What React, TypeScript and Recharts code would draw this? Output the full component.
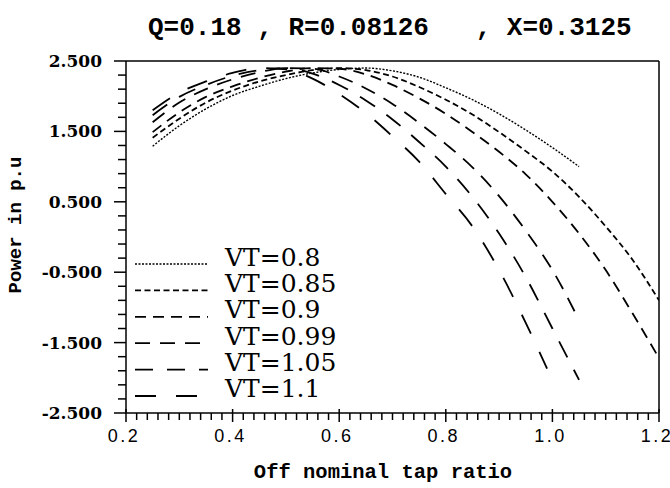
import React from "react";
import { LineChart, Line, XAxis, YAxis, ReferenceLine, Legend } from "recharts";

// tap ratio samples
const tapX = [0.25, 0.3, 0.35, 0.4, 0.45, 0.5, 0.55, 0.6, 0.65, 0.7, 0.75, 0.8, 0.85, 0.9, 0.95, 1.0, 1.05];
const tapXLong = [0.25, 0.3, 0.35, 0.4, 0.45, 0.5, 0.55, 0.6, 0.65, 0.7, 0.75, 0.8, 0.85, 0.9, 0.95, 1.0, 1.05, 1.1, 1.15, 1.2];
const tapX11 = [0.25, 0.3, 0.35, 0.4, 0.45, 0.5, 0.55, 0.6, 0.65, 0.7, 0.75, 0.8, 0.85, 0.9, 0.95, 0.99];

// power in p.u for each VT
const pVT080 = [1.29, 1.58, 1.82, 2.01, 2.14, 2.25, 2.33, 2.38, 2.4, 2.36, 2.27, 2.12, 1.95, 1.75, 1.52, 1.27, 1.0];
const pVT085 = [1.41, 1.68, 1.91, 2.08, 2.21, 2.3, 2.37, 2.4, 2.37, 2.28, 2.13, 1.95, 1.74, 1.49, 1.22, 0.93, 0.57, 0.15, -0.32, -0.9];
const pVT090 = [1.49, 1.77, 1.99, 2.14, 2.26, 2.35, 2.4, 2.39, 2.31, 2.16, 1.97, 1.75, 1.49, 1.21, 0.89, 0.5, 0.05, -0.47, -1.08, -1.72];
const pVT099 = [1.63, 1.91, 2.1, 2.24, 2.34, 2.4, 2.39, 2.28, 2.11, 1.89, 1.62, 1.32, 0.99, 0.58, 0.09, -0.47, -1.18];
const pVT105 = [1.73, 1.99, 2.16, 2.29, 2.37, 2.4, 2.32, 2.16, 1.94, 1.67, 1.35, 1.0, 0.57, 0.05, -0.57, -1.3, -2.03];
const pVT110 = [1.8, 2.05, 2.21, 2.33, 2.4, 2.38, 2.25, 2.03, 1.76, 1.43, 1.07, 0.61, 0.15, -0.47, -1.22, -1.87];

const xMajorTicks = [0.2, 0.4, 0.6, 0.8, 1.0, 1.2];
const xTickLabels = ["0.2", "0.4", "0.6", "0.8", "1.0", "1.2"];
const yMajorTicks = [2.5, 1.5, 0.5, -0.5, -1.5, -2.5];
const yTickLabels = ["2.500", "1.500", "0.500", "-0.500", "-1.500", "-2.500"];

const xMinorTicks = Array.from({ length: 51 }, (_, i) => Math.round((0.2 + i * 0.02) * 100) / 100);
const yMinorTicks = Array.from({ length: 26 }, (_, i) => Math.round((-2.5 + i * 0.2) * 10) / 10);

const rows = (xs: number[], ps: number[]) => xs.map((x, i) => ({ x, p: ps[i] }));

const series = [
  { name: "VT=0.8", data: rows(tapX, pVT080), dash: "2 1.5", w: 1.4 },
  { name: "VT=0.85", data: rows(tapXLong, pVT085), dash: "6 3.5", w: 1.8 },
  { name: "VT=0.9", data: rows(tapXLong, pVT090), dash: "11 7", w: 1.8 },
  { name: "VT=0.99", data: rows(tapX, pVT099), dash: "15 10", w: 1.8 },
  { name: "VT=1.05", data: rows(tapX, pVT105), dash: "18 14", w: 1.8 },
  { name: "VT=1.1", data: rows(tapX11, pVT110), dash: "21 20", w: 1.8 },
];

const findIdx = (list: number[], v: number) => list.findIndex((m) => Math.abs(m - v) < 1e-6);

const YTick = ({ x, y, payload }: any) => {
  const i = findIdx(yMajorTicks, payload.value);
  return (
    <g>
      <line x1={x - (i >= 0 ? 12 : 8)} x2={x} y1={y} y2={y} stroke="#000" strokeWidth={1.5} />
      {i >= 0 && (
        <text
          x={x - 24}
          y={y + 6}
          textAnchor="end"
          fontFamily="DejaVu Serif"
          fontWeight="bold"
          fontSize={17}
          fill="#000"
        >
          {yTickLabels[i]}
        </text>
      )}
    </g>
  );
};

const XTick = ({ x, y, payload }: any) => {
  const i = findIdx(xMajorTicks, payload.value);
  return (
    <g>
      <line x1={x} x2={x} y1={i >= 0 ? y - 4 : y} y2={y + (i >= 0 ? 9 : 7)} stroke="#000" strokeWidth={1.5} />
      {i >= 0 && (
        <text
          x={x - 2}
          y={y + 29}
          textAnchor="middle"
          fontFamily="Liberation Sans"
          fontSize={18}
          letterSpacing={2.5}
          fill="#000"
        >
          {xTickLabels[i]}
        </text>
      )}
    </g>
  );
};

const LegendBox = () => (
  <svg width={240} height={170}>
    {series.map((s, i) => (
      <g key={s.name}>
        <line
          x1={5}
          x2={78}
          y1={24 + i * 26.4}
          y2={24 + i * 26.4}
          stroke="#000"
          strokeWidth={s.w}
          strokeDasharray={s.dash}
        />
        <text x={95} y={26 + i * 26.2} fontFamily="DejaVu Serif" fontSize={25} fill="#000">
          {s.name}
        </text>
      </g>
    ))}
  </svg>
);

export default function App() {
  return (
    <div style={{ position: "fixed", left: 0, top: 0, width: 670, height: 488, background: "#fff" }}>
      <LineChart width={670} height={488} margin={{ top: 61, right: 11, bottom: 45, left: 0 }}>
        <XAxis
          type="number"
          dataKey="x"
          domain={[0.2, 1.2]}
          ticks={xMinorTicks}
          interval={0}
          height={30}
          tick={<XTick />}
          tickLine={false}
          tickSize={0}
          tickMargin={0}
          axisLine={{ stroke: "#000", strokeWidth: 1.5 }}
          allowDataOverflow
        />
        <YAxis
          type="number"
          domain={[-2.5, 2.5]}
          ticks={yMinorTicks}
          interval={0}
          width={126}
          tick={<YTick />}
          tickLine={false}
          tickSize={0}
          tickMargin={0}
          axisLine={{ stroke: "#000", strokeWidth: 1.5 }}
          allowDataOverflow
        />
        <ReferenceLine y={2.5} stroke="#000" strokeWidth={1.5} />
        <ReferenceLine x={1.2} stroke="#000" strokeWidth={1.5} />
        {series.map((s) => (
          <Line
            key={s.name}
            data={s.data}
            dataKey="p"
            name={s.name}
            type="monotone"
            stroke="#000"
            strokeWidth={s.w}
            strokeDasharray={s.dash}
            dot={false}
            activeDot={false}
            isAnimationActive={false}
          />
        ))}
        <Legend
          layout="vertical"
          align="center"
          verticalAlign="middle"
          content={<LegendBox />}
          wrapperStyle={{ left: 130, top: 240, width: 240, height: 170 }}
        />
      </LineChart>
      <svg
        width={670}
        height={488}
        style={{ position: "absolute", left: 0, top: 0, pointerEvents: "none" }}
      >
        <text
          x={148}
          y={35}
          fontFamily="Liberation Mono"
          fontWeight="bold"
          fontSize={26}
          fill="#000"
          style={{ whiteSpace: "pre" }}
        >
          {"Q=0.18 , R=0.08126   , X=0.3125"}
        </text>
        <text
          x={383}
          y={478}
          textAnchor="middle"
          fontFamily="Liberation Mono"
          fontWeight="bold"
          fontSize={20.5}
          fill="#000"
        >
          Off nominal tap ratio
        </text>
        <text
          transform="translate(21,225) rotate(-90)"
          textAnchor="middle"
          fontFamily="Liberation Mono"
          fontWeight="bold"
          fontSize={19}
          fill="#000"
        >
          Power in p.u
        </text>
      </svg>
    </div>
  );
}
